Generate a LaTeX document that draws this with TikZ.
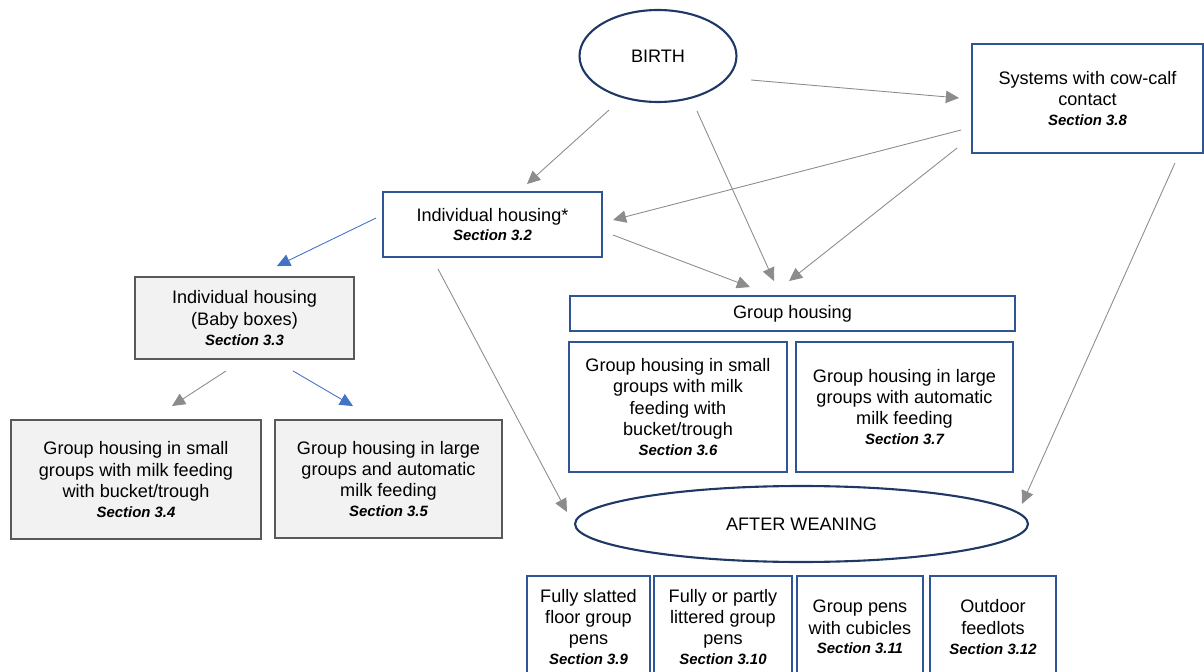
\documentclass[tikz,border=0pt]{standalone}
\usepackage{fontspec}
\setmainfont{Liberation Sans}
\usepackage{tikz}
\usetikzlibrary{calc,arrows.meta,shapes.geometric}
\definecolor{boxblue}{HTML}{2F5597}
\definecolor{ovalblue}{HTML}{1F3864}
\definecolor{linkgrey}{HTML}{8C8C8C}
\definecolor{linkblue}{HTML}{4472C4}
\definecolor{boxgrey}{HTML}{595959}
\definecolor{fillgrey}{HTML}{F2F2F2}
\def\sectref#1{\\[-0.9pt]{\fontsize{8.5}{10}\selectfont\bfseries\itshape Section #1}}
\tikzset{
  box/.style={draw=boxblue, line width=1.1pt, rectangle, inner sep=0pt, align=center, font=\fontsize{10.3}{12.2}\selectfont},
  greybox/.style={box, draw=boxgrey, fill=fillgrey},
  oval/.style={draw=ovalblue, line width=1.2pt, ellipse, inner sep=0pt, font=\fontsize{10.3}{12.2}\selectfont},
  link/.style={draw=linkgrey, line width=0.5pt, -{Triangle[length=7.5pt,width=7pt]}},
  bluelink/.style={link, draw=linkblue},
}

\begin{document}
\begin{tikzpicture}[x=0.02cm, y=-0.02cm]
		%%%%% START %%%%%
		\clip (0,0) rectangle (1204,672);
		
		\node[oval, minimum width=3.14cm, minimum height=1.84cm] (birth) at (658,56) {BIRTH};
		\node[box, minimum width=4.62cm, minimum height=2.18cm] (cowcalf) at (1087.5,98.5) {Systems with cow-calf\\contact\sectref{3.8}};
		\node[box, minimum width=4.38cm, minimum height=1.30cm] (indiv) at (492.5,224.5) {Individual housing*\sectref{3.2}};
		
		\node[greybox, minimum width=4.38cm, minimum height=1.64cm] (babybox) at (244.5,318) {Individual housing\\(Baby boxes)\sectref{3.3}};
		\node[greybox, minimum width=5.00cm, minimum height=2.38cm] (smallbucket) at (136,479.5) {Group housing in small\\groups with milk feeding\\with bucket/trough\sectref{3.4}};
		\node[greybox, minimum width=4.54cm, minimum height=2.36cm] (largeauto) at (388.5,479) {Group housing in large\\groups and automatic\\milk feeding\sectref{3.5}};
		
		\node[box, minimum width=8.90cm, minimum height=0.70cm] (group) at (792.5,313.5) {Group housing};
		\node[box, minimum width=4.36cm, minimum height=2.60cm] (grpsmall) at (678,407) {Group housing in small\\groups with milk\\feeding with\\bucket/trough\sectref{3.6}};
		\node[box, minimum width=4.34cm, minimum height=2.60cm] (grplarge) at (904.5,407) {Group housing in large\\groups with automatic\\milk feeding\sectref{3.7}};
		
		\node[oval, minimum width=9.06cm, minimum height=1.52cm] (weaning) at (801.5,524) {AFTER WEANING};
		
		\node[box, minimum width=2.46cm, minimum height=2.04cm] (slatted) at (588.5,627) {Fully slatted\\floor group\\pens\sectref{3.9}};
		\node[box, minimum width=2.76cm, minimum height=2.04cm] (littered) at (723,627) {Fully or partly\\littered group\\pens\sectref{3.10}};
		\node[box, minimum width=2.52cm, minimum height=2.04cm] (cubicles) at (860,627) {Group pens\\with cubicles\sectref{3.11}};
		\node[box, minimum width=2.52cm, minimum height=2.04cm] (feedlots) at (993,627) {Outdoor\\feedlots\sectref{3.12}};
		
		\draw[link] ($(birth.south)+(-49,7)$) -- ($(indiv.north)+(34.5,-7)$);
		\draw[link] ($(birth.south)+(39,8)$) -- ($(group.north)+(-18.5,-14)$);
		\draw[link] ($(birth.east)+(13.5,24)$) -- ($(cowcalf.west)+(-12,-0.5)$);
		\draw[link] ($(cowcalf.west)+(-10,31.5)$) -- ($(indiv.east)+(10,-4.5)$);
		\draw[link] ($(cowcalf.west)+(-14,49.5)$) -- ($(group.north)+(-3.5,-14)$);
		\draw[link] ($(indiv.east)+(10,10.5)$) -- ($(group.north)+(-42.5,-8)$);
		\draw[link] ($(cowcalf.south)+(87.5,9)$) -- ($(weaning.north)+(220.5,19)$);
		\draw[link] ($(indiv.south)+(-54.5,11)$) -- ($(weaning.west)+(-7,-12)$);
		
		\draw[bluelink] ($(indiv.west)+(-6,-6.5)$) -- ($(babybox.north)+(32.5,-10)$);
		\draw[link] ($(babybox.south)+(-18.5,11)$) -- ($(smallbucket.north)+(36,-13)$);
		\draw[bluelink] ($(babybox.south)+(48.5,11)$) -- ($(largeauto.north)+(-35.5,-13)$);
		
		%%%%% END %%%%%
\end{tikzpicture}
\end{document}
